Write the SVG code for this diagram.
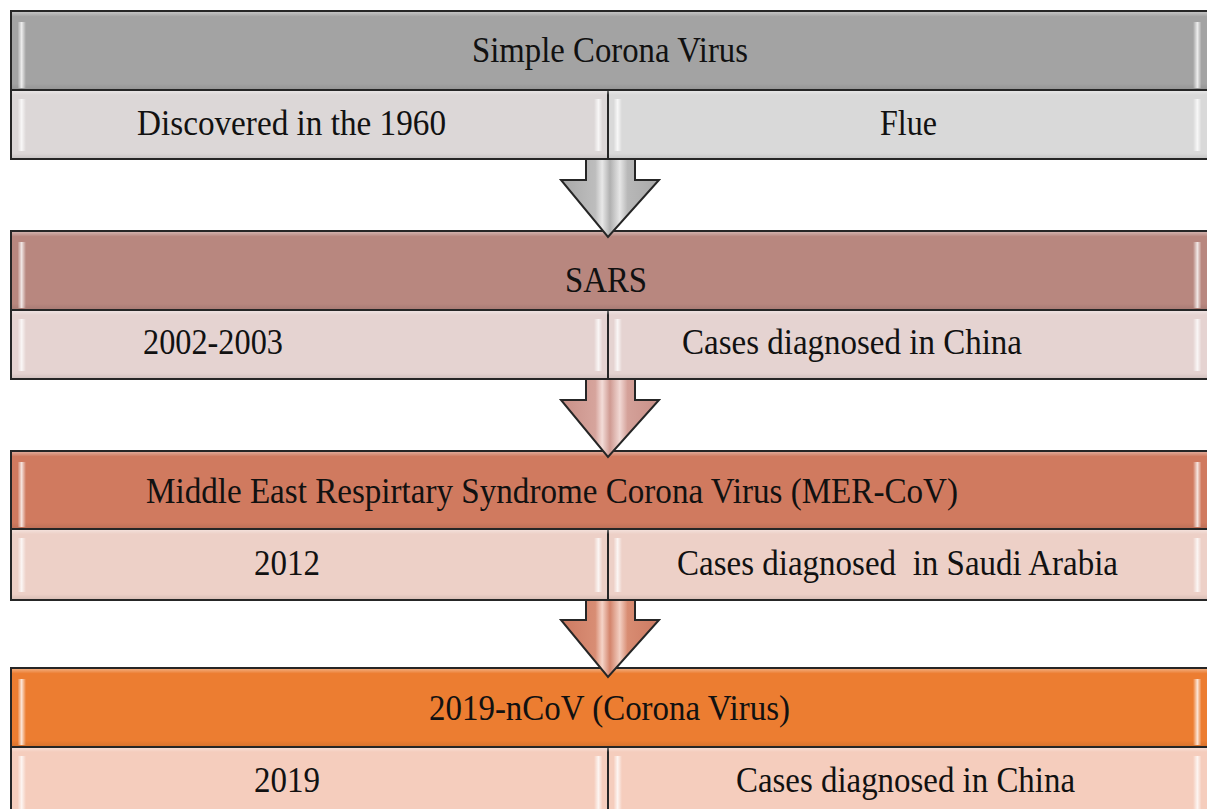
<svg xmlns="http://www.w3.org/2000/svg" width="1207" height="809" viewBox="0 0 1207 809">
<defs>
<linearGradient id="bevel" x1="0" y1="0" x2="0" y2="1">
<stop offset="0" stop-color="#fff" stop-opacity="0.35"/>
<stop offset="0.06" stop-color="#fff" stop-opacity="0"/>
<stop offset="0.93" stop-color="#000" stop-opacity="0"/>
<stop offset="1" stop-color="#000" stop-opacity="0.08"/>
</linearGradient>
<linearGradient id="gleamL" x1="0" y1="0" x2="1" y2="0">
<stop offset="0" stop-color="#fff" stop-opacity="0.1"/>
<stop offset="0.45" stop-color="#fff" stop-opacity="0.8"/>
<stop offset="1" stop-color="#fff" stop-opacity="0"/>
</linearGradient>
<linearGradient id="gleamR" x1="1" y1="0" x2="0" y2="0">
<stop offset="0" stop-color="#fff" stop-opacity="0.1"/>
<stop offset="0.45" stop-color="#fff" stop-opacity="0.8"/>
<stop offset="1" stop-color="#fff" stop-opacity="0"/>
</linearGradient>
<linearGradient id="arG" x1="0" y1="0" x2="1" y2="0">
<stop offset="0" stop-color="#a8a8a8"/><stop offset="0.35" stop-color="#bdbdbd"/><stop offset="0.42" stop-color="#e8e8e8"/><stop offset="0.5" stop-color="#b0b0b0"/><stop offset="0.6" stop-color="#e6e6e6"/><stop offset="0.68" stop-color="#b8b8b8"/><stop offset="1" stop-color="#a8a8a8"/>
</linearGradient>
<linearGradient id="arP" x1="0" y1="0" x2="1" y2="0">
<stop offset="0" stop-color="#c99088"/><stop offset="0.35" stop-color="#d6a49c"/><stop offset="0.42" stop-color="#f3dcd8"/><stop offset="0.5" stop-color="#cf9a92"/><stop offset="0.6" stop-color="#f1d8d4"/><stop offset="0.68" stop-color="#d4a199"/><stop offset="1" stop-color="#c99088"/>
</linearGradient>
<linearGradient id="arO" x1="0" y1="0" x2="1" y2="0">
<stop offset="0" stop-color="#cc7a62"/><stop offset="0.35" stop-color="#d88d74"/><stop offset="0.42" stop-color="#f5d4c8"/><stop offset="0.5" stop-color="#d3846b"/><stop offset="0.6" stop-color="#f3cfc2"/><stop offset="0.68" stop-color="#d88c72"/><stop offset="1" stop-color="#cc7a62"/>
</linearGradient>
</defs>
<style>
.box{stroke:#262626;stroke-width:2}
.bv{fill:url(#bevel)}
.gl{fill:url(#gleamL)}
.gr{fill:url(#gleamR)}
.t{font-family:"Liberation Serif","Times New Roman",serif;font-size:36px;fill:#111;text-anchor:start}
.arrow{stroke:#262626;stroke-width:2;stroke-linejoin:miter}
</style>
<rect width="1207" height="809" fill="#fff"/>

<g id="block1">
<rect class="box" x="11" y="11" width="1200" height="79" fill="#a3a3a3"/>
<rect class="bv" x="12" y="12" width="1198" height="77"/>
<rect class="gl" x="18" y="22" width="8" height="66"/>
<rect class="gr" x="1193" y="22" width="8" height="66"/>
<rect class="box" x="11" y="90" width="597" height="69" fill="#dcd7d7"/>
<rect class="box" x="608" y="90" width="603" height="69" fill="#d9d9d9"/>
<rect class="bv" x="12" y="91" width="1198" height="67"/>
<rect class="gl" x="18" y="99" width="8" height="52"/>
<rect class="gr" x="594" y="99" width="8" height="52"/>
<rect class="gl" x="614" y="99" width="8" height="52"/>
<rect class="gr" x="1193" y="99" width="8" height="52"/>
<text class="t" x="472" y="62" textLength="276" lengthAdjust="spacingAndGlyphs">Simple Corona Virus</text>
<text class="t" x="137" y="135" textLength="309" lengthAdjust="spacingAndGlyphs">Discovered in the 1960</text>
<text class="t" x="880" y="135" textLength="57" lengthAdjust="spacingAndGlyphs">Flue</text>
</g>

<g id="block2">
<rect class="box" x="11" y="231" width="1200" height="79" fill="#b8877f"/>
<rect class="bv" x="12" y="232" width="1198" height="77"/>
<rect class="gl" x="18" y="242" width="8" height="66"/>
<rect class="gr" x="1193" y="242" width="8" height="66"/>
<rect class="box" x="11" y="310" width="597" height="69" fill="#e5d3d1"/>
<rect class="box" x="608" y="310" width="603" height="69" fill="#e5d3d1"/>
<rect class="bv" x="12" y="311" width="1198" height="67"/>
<rect class="gl" x="18" y="319" width="8" height="52"/>
<rect class="gr" x="594" y="319" width="8" height="52"/>
<rect class="gl" x="614" y="319" width="8" height="52"/>
<rect class="gr" x="1193" y="319" width="8" height="52"/>
<text class="t" x="565" y="292" textLength="82" lengthAdjust="spacingAndGlyphs">SARS</text>
<text class="t" x="143" y="354" textLength="140" lengthAdjust="spacingAndGlyphs">2002-2003</text>
<text class="t" x="682" y="354" textLength="340" lengthAdjust="spacingAndGlyphs">Cases diagnosed in China</text>
</g>

<g id="block3">
<rect class="box" x="11" y="451" width="1200" height="78" fill="#d07a5f"/>
<rect class="bv" x="12" y="452" width="1198" height="76"/>
<rect class="gl" x="18" y="462" width="8" height="65"/>
<rect class="gr" x="1193" y="462" width="8" height="65"/>
<rect class="box" x="11" y="529" width="597" height="71" fill="#edd0c7"/>
<rect class="box" x="608" y="529" width="603" height="71" fill="#edd0c7"/>
<rect class="bv" x="12" y="530" width="1198" height="69"/>
<rect class="gl" x="18" y="538" width="8" height="54"/>
<rect class="gr" x="594" y="538" width="8" height="54"/>
<rect class="gl" x="614" y="538" width="8" height="54"/>
<rect class="gr" x="1193" y="538" width="8" height="54"/>
<text class="t" x="146" y="503" textLength="812" lengthAdjust="spacingAndGlyphs">Middle East Respirtary Syndrome Corona Virus (MER-CoV)</text>
<text class="t" x="254" y="575" textLength="66" lengthAdjust="spacingAndGlyphs">2012</text>
<text class="t" x="677" y="575" textLength="441" lengthAdjust="spacingAndGlyphs" xml:space="preserve">Cases diagnosed  in Saudi Arabia</text>
</g>

<g id="block4">
<rect class="box" x="11" y="668" width="1200" height="79" fill="#ec7d31"/>
<rect class="bv" x="12" y="669" width="1198" height="77"/>
<rect class="gl" x="18" y="679" width="8" height="66"/>
<rect class="gr" x="1193" y="679" width="8" height="66"/>
<rect class="box" x="11" y="747" width="597" height="70" fill="#f5cdbd"/>
<rect class="box" x="608" y="747" width="603" height="70" fill="#f5cdbd"/>
<rect class="bv" x="12" y="748" width="1198" height="68"/>
<rect class="gl" x="18" y="756" width="8" height="54"/>
<rect class="gr" x="594" y="756" width="8" height="54"/>
<rect class="gl" x="614" y="756" width="8" height="54"/>
<rect class="gr" x="1193" y="756" width="8" height="54"/>
<text class="t" x="429" y="720" textLength="361" lengthAdjust="spacingAndGlyphs">2019-nCoV (Corona Virus)</text>
<text class="t" x="254" y="792" textLength="66" lengthAdjust="spacingAndGlyphs">2019</text>
<text class="t" x="736" y="792" textLength="339" lengthAdjust="spacingAndGlyphs">Cases diagnosed in China</text>
</g>

<g id="connectors">
<path class="arrow" fill="url(#arG)" d="M586,159 L635,159 L635,180 L659,180 L608,237 L561,180 L586,180 Z"/>
<path class="arrow" fill="url(#arP)" d="M586,379 L635,379 L635,400 L659,400 L608,457 L561,400 L586,400 Z"/>
<path class="arrow" fill="url(#arO)" d="M586,600 L635,600 L635,620 L659,620 L608,677 L561,620 L586,620 Z"/>
</g>
</svg>
